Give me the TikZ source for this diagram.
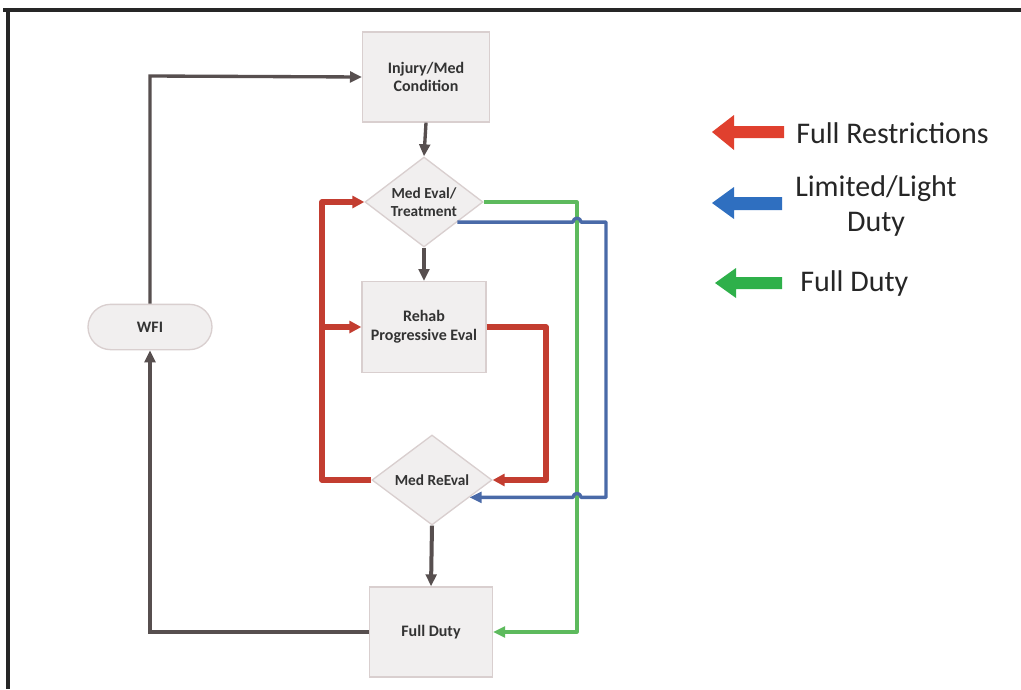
\documentclass[tikz,border=0pt]{standalone}
\usepackage{fontspec}
\setmainfont{Carlito}
\usetikzlibrary{shapes.geometric,arrows.meta,calc}
\definecolor{boxfill}{HTML}{F1EFEF}
\definecolor{boxline}{HTML}{D9CFCF}
\definecolor{conn}{HTML}{574F4F}
\definecolor{redline}{HTML}{C33D30}
\definecolor{blueline}{HTML}{4A6AA8}
\definecolor{greenline}{HTML}{5DBA5D}
\definecolor{legred}{HTML}{E0402E}
\definecolor{legblue}{HTML}{2F6FC0}
\definecolor{leggreen}{HTML}{2EB04A}
\begin{document}
\begin{tikzpicture}[x=0.75pt,y=-0.75pt,
  procbox/.style={draw=boxline,fill=boxfill,line width=1pt,inner sep=2pt,align=center,font=\fontsize{12}{14}\selectfont\bfseries,text=black!80},
  decbox/.style={diamond,shape aspect=1.4,draw=boxline,fill=boxfill,line width=1pt,inner sep=-6pt,align=center,font=\fontsize{11.5}{13.5}\selectfont\bfseries,text=black!80},
  termbox/.style={rounded corners=17pt,draw=boxline,fill=boxfill,line width=1pt,align=center,font=\fontsize{12}{14}\selectfont\bfseries,text=black!80},
  gray conn/.style={draw=conn,line width=2.5pt,-{Triangle[length=9pt,width=8pt]}},
  red conn/.style={draw=redline,line width=4pt,line join=round,-{Triangle[length=9pt,width=9pt]}},
  blue conn/.style={draw=blueline,line width=2.5pt,line join=round,-{Triangle[length=9pt,width=8pt]}},
  green conn/.style={draw=greenline,line width=2.3pt,line join=round,-{Triangle[length=9pt,width=8pt]}},
  legtext/.style={font=\fontsize{22.5}{26}\selectfont,text=black!85,inner sep=0pt,align=center}
]
\useasboundingbox (0,0) rectangle (1021,689);
\fill[white] (0,0) rectangle (1021,689);
% frame
\draw[line width=2.4pt,black!85] (3,10) -- (1021,10);
\draw[line width=2.4pt,black!85] (8,10) -- (8,689);

% nodes
\node[procbox,minimum width=95pt,minimum height=67.5pt] (inj) at (426,77) {Injury/Med\\Condition};
\node[decbox,minimum width=88.5pt,minimum height=67.5pt] (eval) at (424,202) {Med Eval/\\Treatment};
\node[procbox,minimum width=93pt,minimum height=68pt] (rehab) at (424,327) {Rehab\\Progressive Eval};
\node[decbox,minimum width=90pt,minimum height=67.5pt] (reeval) at (432,480) {Med ReEval};
\node[procbox,minimum width=92pt,minimum height=67.5pt] (full) at (431,632) {Full Duty};
\node[termbox,minimum width=93pt,minimum height=34pt] (wfi) at (150,327) {WFI};

\coordinate (topleft) at (150,76);
\coordinate (botleft) at (150,632);
\coordinate (rl1) at (322,480);
\coordinate (rl2) at (322,202);
\coordinate (rl3) at (322,327);
\coordinate (rr1) at (546,327);
\coordinate (rr2) at (546,480);
\coordinate (g1) at (577,202);
\coordinate (g2) at (577,632);
\coordinate (bstart) at ($(eval.east)!0.44!(eval.south)$);
\coordinate (bend) at ($(reeval.east)!0.38!(reeval.south)$);

% gray connectors
\draw[gray conn] (wfi.north) -- (topleft) -- (inj.west);
\draw[gray conn] (inj.south) -- (eval.north);
\draw[gray conn] (eval.south) -- (rehab.north);
\draw[gray conn,line width=3pt] (reeval.south) -- (full.north);
\draw[gray conn] (full.west) -- (botleft) -- (wfi.south);

% green
\draw[green conn] (eval.east) -- (g1) -- (g2) -- (full.east);

% blue with hops over green
\draw[blue conn] (bstart) -- (bstart -| 573,0) arc (180:360:4) -- (bstart -| 606,0) -- (bend -| 606,0) -- (bend -| 581,0) arc (0:-180:4) -- (bend);

% red
\draw[red conn] (reeval.west) -- (rl1) -- (rl2) -- (eval.west);
\draw[red conn] (rl3) -- (rehab.west);
\draw[red conn] (rehab.east) -- (rr1) -- (rr2) -- (reeval.east);

% legend arrows
\fill[legred] (712,132) -- (734,115) -- (734,126) -- (784,126) -- (784,138) -- (734,138) -- (734,150) -- cycle;
\fill[legblue] (712,203) -- (734,187) -- (734,197) -- (782,197) -- (782,210) -- (734,210) -- (734,219) -- cycle;
\fill[leggreen] (715,283) -- (736,268) -- (736,277) -- (782,277) -- (782,289) -- (736,289) -- (736,298) -- cycle;

\node[legtext,anchor=west] (lt1) at (796,133) {Full Restrictions};
\node[legtext] (lt2) at (876,206) {Limited/Light\\Duty};
\node[legtext,anchor=west] (lt3) at (800,283) {Full Duty};
\end{tikzpicture}
\end{document}
